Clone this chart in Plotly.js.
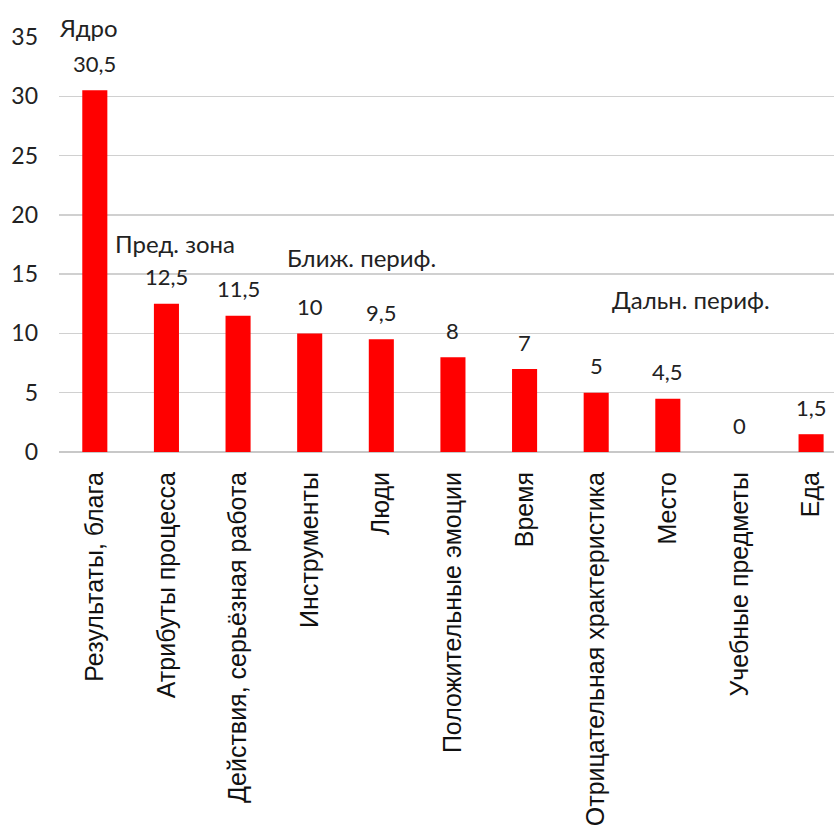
<!DOCTYPE html>
<html>
<head>
<meta charset="utf-8">
<script src="https://cdn.plot.ly/plotly-3.0.1.min.js"></script>
<style>html,body{margin:0;padding:0;background:#fff;}#chart{width:834px;height:829px;}</style>
</head>
<body>
<div id="chart"></div>
<script>
const categories = ["Результаты, блага", "Атрибуты процесса", "Действия, серьёзная работа", "Инструменты", "Люди", "Положительные эмоции", "Время", "Отрицательная хрaктеристика", "Место", "Учебные предметы", "Еда"];
const values = [30.5, 12.5, 11.5, 10, 9.5, 8, 7, 5, 4.5, 0, 1.5];
const valueLabels = ["30,5", "12,5", "11,5", "10", "9,5", "8", "7", "5", "4,5", "0", "1,5"];
const zoneLabels = ["Ядро", "Пред. зона", "Ближ. периф.", "Дальн. периф."];
const tickVals = [0, 5, 10, 15, 20, 25, 30, 35];

// zone label placement: [x (category units), y (paper units)]
const zonePos = [[-0.09, 1.022], [1.12, 0.5036], [3.72, 0.4675], [8.33, 0.3663]];

const annotations = values.map((v, i) => ({
  x: i, y: v, xref: 'x', yref: 'y', text: valueLabels[i], showarrow: false,
  yshift: 27, yanchor: 'middle', xanchor: 'center',
  font: {family: 'Lato, sans-serif', size: 22, color: '#222'}
})).concat(zoneLabels.map((t, i) => ({
  x: zonePos[i][0], y: zonePos[i][1], xref: 'x', yref: 'paper', text: t, showarrow: false,
  yanchor: 'middle', xanchor: 'center',
  font: {family: 'Lato, sans-serif', size: 24, color: '#222'}
})));

Plotly.newPlot('chart', [{
  type: 'bar',
  x: categories.map((c, i) => i),
  y: values,
  marker: {color: '#ff0000'},
  hoverinfo: 'none'
}], {
  width: 834, height: 829,
  margin: {l: 59, r: 0, t: 37, b: 377},
  bargap: 0.65,
  showlegend: false,
  paper_bgcolor: '#fff', plot_bgcolor: '#fff',
  xaxis: {
    range: [-0.5, 10.32],
    tickmode: 'array', tickvals: categories.map((c, i) => i), ticktext: categories,
    tickangle: -90, showgrid: false, zeroline: false, showline: false, ticks: '',
    ticklabelstandoff: 14,
    tickfont: {family: '"Liberation Sans", Arial, sans-serif', size: 25, color: '#111'}
  },
  yaxis: {
    range: [0, 35], tickmode: 'array', tickvals: tickVals,
    showgrid: true, gridcolor: '#d0d0d0', gridwidth: 1.5,
    zeroline: true, zerolinecolor: '#c8c8c8', zerolinewidth: 1.5,
    showline: false, ticks: '', ticklabelstandoff: 20,
    tickfont: {family: 'Lato, sans-serif', size: 23, color: '#222'}
  },
  annotations: annotations
}, {displayModeBar: false, staticPlot: true});
</script>
</body>
</html>
